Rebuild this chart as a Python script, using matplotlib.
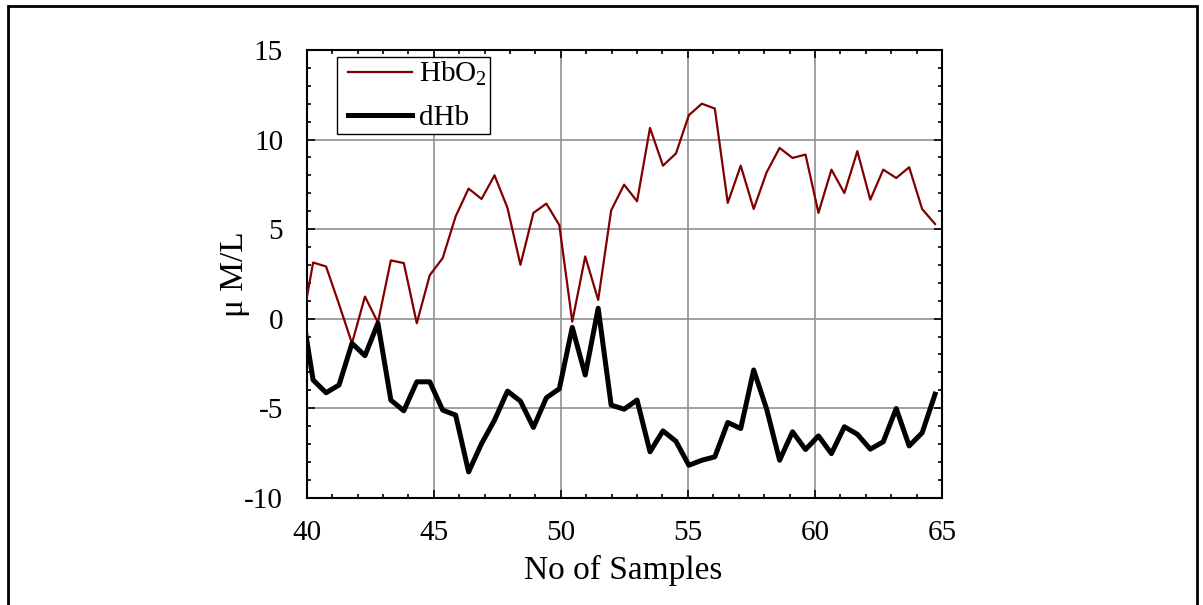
#!/usr/bin/env python3

import matplotlib
matplotlib.use('Agg')
import matplotlib.pyplot as plt
from matplotlib.lines import Line2D
from matplotlib.legend_handler import HandlerLine2D
from matplotlib.patches import Rectangle
from matplotlib.ticker import MultipleLocator

plt.rcParams['font.family'] = ['Liberation Serif', 'DejaVu Serif']
plt.rcParams['mathtext.fontset'] = 'custom'
plt.rcParams['mathtext.rm'] = 'Liberation Serif'
plt.rcParams['mathtext.it'] = 'Liberation Serif:italic'
plt.rcParams['axes.unicode_minus'] = False

# sample positions (first one lies just left of the visible window)
samples = [39.74, 40.25, 40.76, 41.27, 41.78, 42.29, 42.80, 43.31, 43.82, 44.33,
           44.84, 45.35, 45.86, 46.37, 46.88, 47.39, 47.90, 48.41, 48.92, 49.43,
           49.94, 50.45, 50.96, 51.47, 51.98, 52.49, 53.00, 53.51, 54.02, 54.53,
           55.04, 55.55, 56.06, 56.57, 57.08, 57.59, 58.10, 58.61, 59.12, 59.63,
           60.14, 60.65, 61.16, 61.67, 62.18, 62.69, 63.20, 63.71, 64.22, 64.73]

hbo2 = [-0.90, 3.13, 2.91, 0.80, -1.38, 1.23, -0.22, 3.25, 3.10, -0.26,
        2.42, 3.38, 5.71, 7.26, 6.68, 8.00, 6.18, 3.00, 5.90, 6.42,
        5.22, -0.17, 3.47, 1.04, 6.04, 7.48, 6.55, 10.65, 8.54, 9.22,
        11.36, 12.00, 11.73, 6.46, 8.54, 6.12, 8.17, 9.53, 8.97, 9.16,
        5.90, 8.32, 7.01, 9.35, 6.64, 8.32, 7.85, 8.45, 6.12, 5.28]

dhb = [1.10, -3.43, -4.14, -3.71, -1.38, -2.07, -0.26, -4.55, -5.15, -3.53,
       -3.53, -5.11, -5.39, -8.56, -6.98, -5.67, -4.05, -4.61, -6.08, -4.42,
       -3.92, -0.49, -3.15, 0.58, -4.83, -5.06, -4.55, -7.44, -6.27, -6.85,
       -8.19, -7.91, -7.72, -5.80, -6.14, -2.87, -5.05, -7.91, -6.32, -7.31,
       -6.55, -7.54, -6.04, -6.46, -7.29, -6.88, -5.02, -7.11, -6.38, -4.22]

fig = plt.figure(figsize=(12.03, 6.05), dpi=100)
ax = fig.add_axes([0.255, 0.1774, 0.528, 0.740])

ax.plot(samples, hbo2, color='#800000', linewidth=1.6, label='HbO$_2$', zorder=3)
ax.plot(samples, dhb, color='black', linewidth=3.6, label='dHb', zorder=3)

ax.set_xlim(40, 65)
ax.set_ylim(-10, 15)
ax.xaxis.set_major_locator(MultipleLocator(5))
ax.xaxis.set_minor_locator(MultipleLocator(1))
ax.yaxis.set_major_locator(MultipleLocator(5))
ax.yaxis.set_minor_locator(MultipleLocator(1))

ax.grid(True, which='major', color='#909090', linewidth=1.2, zorder=0)
ax.set_axisbelow(True)

ax.tick_params(which='both', direction='in', top=True, right=True,
               width=1.2, color='black')
ax.tick_params(which='major', length=6, labelsize=21)
ax.tick_params(which='minor', length=3)
ax.tick_params(axis='x', which='major', pad=16)
ax.tick_params(axis='y', which='major', pad=17)
for s in ax.spines.values():
    s.set_linewidth(1.5)

ax.set_xlabel('No of Samples', fontsize=24)
ax.set_ylabel('\u03bc M/L', fontsize=24)
ax.xaxis.set_label_coords(0.498, -0.127)
ax.yaxis.set_label_coords(-0.089, 0.5)

# handles inset a little from the legend frame
leg = ax.legend(loc='upper left', bbox_to_anchor=(0.048, 0.984),
                borderaxespad=0, fontsize=21, fancybox=False,
                framealpha=1, edgecolor='black', handlelength=2.45,
                handletextpad=0.25, borderpad=0.1, labelspacing=0.56,
                handler_map={Line2D: HandlerLine2D(xpad=0.28)})
leg.get_frame().set_linewidth(1.0)

# frame around the whole figure
fig.patches.append(Rectangle((7.7 / 1203, -0.05), (1197 - 7.7) / 1203,
                             1.05 - 5.7 / 605, transform=fig.transFigure,
                             fill=False, edgecolor='black', linewidth=2.0))

fig.savefig('out.png', dpi=100)
